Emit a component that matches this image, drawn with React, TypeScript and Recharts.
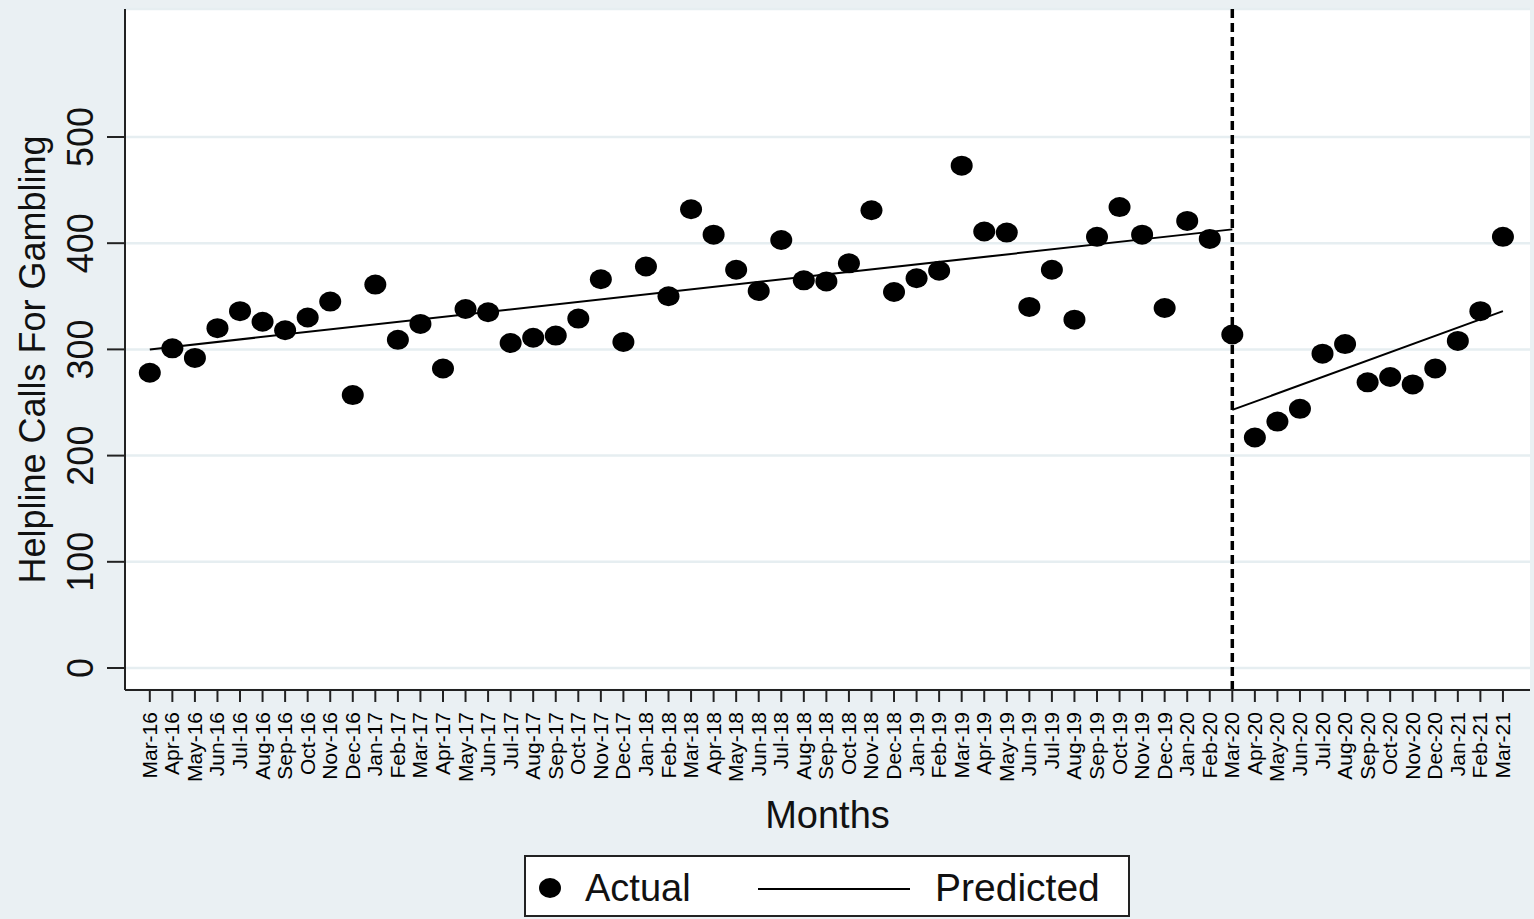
import React from "react";
import { ComposedChart, Scatter, Line, XAxis, YAxis, CartesianGrid, ReferenceLine, Label } from "recharts";

const months = [
  "Mar-16", "Apr-16", "May-16", "Jun-16", "Jul-16", "Aug-16", "Sep-16", "Oct-16", "Nov-16", "Dec-16",
  "Jan-17", "Feb-17", "Mar-17", "Apr-17", "May-17", "Jun-17", "Jul-17", "Aug-17", "Sep-17", "Oct-17", "Nov-17", "Dec-17",
  "Jan-18", "Feb-18", "Mar-18", "Apr-18", "May-18", "Jun-18", "Jul-18", "Aug-18", "Sep-18", "Oct-18", "Nov-18", "Dec-18",
  "Jan-19", "Feb-19", "Mar-19", "Apr-19", "May-19", "Jun-19", "Jul-19", "Aug-19", "Sep-19", "Oct-19", "Nov-19", "Dec-19",
  "Jan-20", "Feb-20", "Mar-20", "Apr-20", "May-20", "Jun-20", "Jul-20", "Aug-20", "Sep-20", "Oct-20", "Nov-20", "Dec-20",
  "Jan-21", "Feb-21", "Mar-21",
];

const actualCalls = [
  278, 301, 292, 320, 336, 326, 318, 330, 345, 257,
  361, 309, 324, 282, 338, 335, 306, 311, 313, 329, 366, 307,
  378, 350, 432, 408, 375, 355, 403, 365, 364, 381, 431, 354,
  367, 374, 473, 411, 410, 340, 375, 328, 406, 434, 408, 339,
  421, 404, 314, 217, 232, 244, 296, 305, 269, 274, 267, 282,
  308, 336, 406,
];

// fitted trend, before and after the break (Mar-20)
const predictedPre = [
  { month: "Mar-16", calls: 300 },
  { month: "Mar-20", calls: 413 },
];
const predictedPost = [
  { month: "Mar-20", calls: 243 },
  { month: "Mar-21", calls: 336 },
];

const breakMonth = "Mar-20";
const yTicks = [0, 100, 200, 300, 400, 500];

const FONT = "'Liberation Sans', Arial, Helvetica, sans-serif";
const BG = "#eaf0f3";

const idx = (m: string) => months.indexOf(m);
const actualData = actualCalls.map((v, i) => ({ i, calls: v }));
const pre = predictedPre.map((d) => ({ i: idx(d.month), calls: d.calls }));
const post = predictedPost.map((d) => ({ i: idx(d.month), calls: d.calls }));

const XTick = (props: any) => {
  const { x, y, payload } = props;
  return (
    <text
      x={x + 7}
      y={y + 8}
      transform={`rotate(-90, ${x + 7}, ${y + 8})`}
      textAnchor="end"
      fontSize={21}
      fontFamily={FONT}
      fill="#000"
    >
      {months[payload.value]}
    </text>
  );
};

const YTick = (props: any) => {
  const { x, y, payload } = props;
  const bx = x - 12;
  return (
    <text
      x={bx}
      y={y}
      transform={`rotate(-90, ${bx}, ${y})`}
      textAnchor="middle"
      fontSize={36}
      fontFamily={FONT}
      fill="#111"
    >
      {payload.value}
    </text>
  );
};

const Dot = (props: any) => <ellipse cx={props.cx} cy={props.cy} rx={11} ry={10} fill="#000" />;

export default function App() {
  return (
    <div style={{ position: "absolute", left: 0, top: 0, width: 1534, height: 919, background: BG, overflow: "hidden" }}>
      <ComposedChart width={1534} height={919} margin={{ top: 9, right: 4, bottom: 0, left: 0 }}>
        <CartesianGrid vertical={false} fill="#fff" stroke="#e6eef1" strokeWidth={2.5} />
        <XAxis
          type="number"
          dataKey="i"
          domain={[-1.1, 61.2]}
          ticks={months.map((_, i) => i)}
          interval={0}
          allowDataOverflow
          height={229}
          tickSize={12}
          tick={<XTick />}
          stroke="#222"
          strokeWidth={2}
          tickLine={{ stroke: "#222", strokeWidth: 2 }}
        >
          <Label
            content={(p: any) => (
              <text
                x={p.viewBox.x + p.viewBox.width / 2}
                y={828}
                textAnchor="middle"
                fontSize={38}
                fontFamily={FONT}
                fill="#111"
              >
                Months
              </text>
            )}
          />
        </XAxis>
        <YAxis
          type="number"
          domain={[-20.7, 620.5]}
          ticks={yTicks}
          allowDataOverflow
          width={125}
          tickSize={18}
          tick={<YTick />}
          stroke="#222"
          strokeWidth={2}
          tickLine={{ stroke: "#222", strokeWidth: 2 }}
        >
          <Label
            content={(p: any) => {
              const cx = 45;
              const cy = p.viewBox.y + p.viewBox.height / 2 + 10;
              return (
                <text
                  x={cx}
                  y={cy}
                  transform={`rotate(-90, ${cx}, ${cy})`}
                  textAnchor="middle"
                  fontSize={36}
                  fontFamily={FONT}
                  fill="#111"
                >
                  Helpline Calls For Gambling
                </text>
              );
            }}
          />
        </YAxis>
        <ReferenceLine x={idx(breakMonth)} stroke="#000" strokeWidth={3.5} strokeDasharray="9 5" />
        <Line data={pre} dataKey="calls" stroke="#000" strokeWidth={2} dot={false} isAnimationActive={false} />
        <Line data={post} dataKey="calls" stroke="#000" strokeWidth={2} dot={false} isAnimationActive={false} />
        <Scatter data={actualData} dataKey="calls" shape={<Dot />} isAnimationActive={false} />
      </ComposedChart>
      <div
        style={{
          position: "absolute",
          left: 524,
          top: 855,
          width: 606,
          height: 62,
          boxSizing: "border-box",
          border: "2px solid #222",
          background: "#fff",
        }}
      >
        <svg width={602} height={58} style={{ display: "block" }}>
          <ellipse cx={24} cy={31} rx={11} ry={10} fill="#000" />
          <text x={59} y={44} fontSize={38} fontFamily={FONT} fill="#111">
            Actual
          </text>
          <line x1={232} x2={384} y1={32} y2={32} stroke="#000" strokeWidth={2} />
          <text x={409} y={44} fontSize={39} fontFamily={FONT} fill="#111">
            Predicted
          </text>
        </svg>
      </div>
    </div>
  );
}
